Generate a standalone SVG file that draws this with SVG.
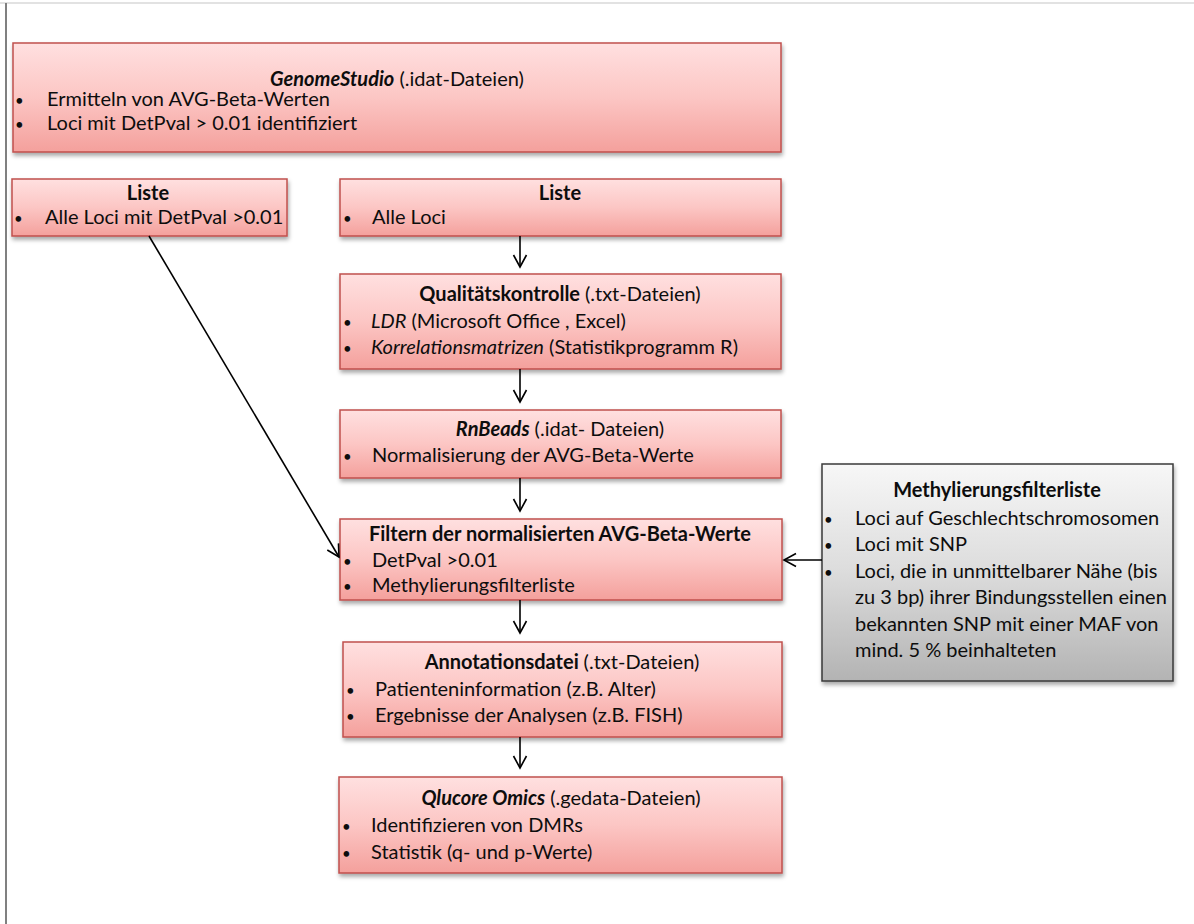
<svg xmlns="http://www.w3.org/2000/svg" width="1194" height="924" viewBox="0 0 1194 924">
<defs>
<linearGradient id="red" x1="0" y1="0" x2="0" y2="1">
<stop offset="0" stop-color="#ffe0e0"/>
<stop offset="0.5" stop-color="#fcc6c4"/>
<stop offset="1" stop-color="#f4a09c"/>
</linearGradient>
<linearGradient id="gray" x1="0" y1="0" x2="0" y2="1">
<stop offset="0" stop-color="#f7f7f7"/>
<stop offset="0.5" stop-color="#dcdcdc"/>
<stop offset="1" stop-color="#b3b3b3"/>
</linearGradient>
<filter id="sh" x="-5%" y="-10%" width="110%" height="130%">
<feDropShadow dx="1" dy="3" stdDeviation="2" flood-color="#000" flood-opacity="0.35"/>
</filter>
<marker id="arr" markerUnits="userSpaceOnUse" viewBox="-1 -8 15 16" refX="12" refY="0" markerWidth="15" markerHeight="16" orient="auto">
<path d="M0,-6.5 L12,0 L0,6.5" fill="none" stroke="#000" stroke-width="1.6"/>
</marker>
</defs>
<style>
.box{fill:url(#red);stroke:#c0504d;stroke-width:1.5;filter:url(#sh)}
.gbox{fill:url(#gray);stroke:#3a3a3a;stroke-width:1.5;filter:url(#sh)}
text{font-family:Lato,"Liberation Sans",sans-serif;font-size:20px;fill:#0d0d0d}
.t{text-anchor:middle;font-weight:bold}
.b{font-size:15px}
.it{font-style:italic}
.n{font-weight:normal;font-style:normal}
.c{fill:none;stroke:#000;stroke-width:1.6;marker-end:url(#arr)}
</style>
<line x1="0" y1="3" x2="1194" y2="3" stroke="#d9d9d9" stroke-width="1.5"/>
<line x1="6" y1="3" x2="6" y2="924" stroke="#808080" stroke-width="2"/>

<g id="genomestudio">
<rect class="box" x="13" y="43" width="768" height="109"/>
<text class="t" x="397" y="86"><tspan class="it">GenomeStudio</tspan><tspan class="n"> (.idat-Dateien)</tspan></text>
<text class="b" x="15" y="106">•</text><text x="47" y="106">Ermitteln von AVG-Beta-Werten</text>
<text class="b" x="15" y="130">•</text><text x="47" y="130">Loci mit DetPval &gt; 0.01 identifiziert</text>
</g>

<g id="liste-links">
<rect class="box" x="12" y="179" width="275" height="57"/>
<text class="t" x="148" y="200">Liste</text>
<text class="b" x="14" y="224">•</text><text x="45" y="224">Alle Loci mit DetPval &gt;0.01</text>
</g>

<g id="liste-rechts">
<rect class="box" x="340" y="179" width="441" height="57"/>
<text class="t" x="560" y="200">Liste</text>
<text class="b" x="343" y="224">•</text><text x="372" y="224">Alle Loci</text>
</g>

<g id="qualitaetskontrolle">
<rect class="box" x="340" y="274" width="441" height="95"/>
<text class="t" x="560" y="301">Qualitätskontrolle <tspan class="n"> (.txt-Dateien)</tspan></text>
<text class="b" x="343" y="328">•</text><text x="371" y="328"><tspan class="it">LDR</tspan> (Microsoft Office , Excel)</text>
<text class="b" x="343" y="354">•</text><text x="371" y="354"><tspan class="it">Korrelationsmatrizen</tspan> (Statistikprogramm R)</text>
</g>

<g id="rnbeads">
<rect class="box" x="340" y="410" width="441" height="68"/>
<text class="t" x="560" y="436"><tspan class="it">RnBeads</tspan><tspan class="n"> (.idat- Dateien)</tspan></text>
<text class="b" x="343" y="462">•</text><text x="372" y="462">Normalisierung der AVG-Beta-Werte</text>
</g>

<g id="filtern">
<rect class="box" x="340" y="519" width="442" height="81"/>
<text class="t" x="560" y="541">Filtern der normalisierten AVG-Beta-Werte</text>
<text class="b" x="343" y="567">•</text><text x="372" y="567">DetPval &gt;0.01</text>
<text class="b" x="343" y="592">•</text><text x="372" y="592">Methylierungsfilterliste</text>
</g>

<g id="annotationsdatei">
<rect class="box" x="343" y="642" width="439" height="95"/>
<text class="t" x="562" y="669">Annotationsdatei <tspan class="n"> (.txt-Dateien)</tspan></text>
<text class="b" x="346" y="696">•</text><text x="375" y="696">Patienteninformation (z.B. Alter)</text>
<text class="b" x="346" y="722">•</text><text x="375" y="722">Ergebnisse der Analysen (z.B. FISH)</text>
</g>

<g id="qlucore">
<rect class="box" x="339" y="777" width="443" height="96"/>
<text class="t" x="561" y="805"><tspan class="it">Qlucore Omics</tspan><tspan class="n">  (.gedata-Dateien)</tspan></text>
<text class="b" x="342" y="832">•</text><text x="371" y="832">Identifizieren von DMRs</text>
<text class="b" x="342" y="859">•</text><text x="371" y="859">Statistik (q- und p-Werte)</text>
</g>

<g id="methylierungsfilterliste">
<rect class="gbox" x="822" y="464" width="351" height="217"/>
<text class="t" x="997" y="497">Methylierungsfilterliste</text>
<text class="b" x="824" y="525">•</text><text x="855" y="525">Loci auf Geschlechtschromosomen</text>
<text class="b" x="824" y="551">•</text><text x="855" y="551">Loci mit SNP</text>
<text class="b" x="824" y="578">•</text><text x="855" y="578">Loci, die in unmittelbarer Nähe (bis</text>
<text x="855" y="604">zu 3 bp) ihrer Bindungsstellen einen</text>
<text x="855" y="631">bekannten SNP mit einer MAF von</text>
<text x="855" y="657">mind. 5 % beinhalteten</text>
</g>

<g id="connectors">
<line class="c" x1="520" y1="236" x2="520" y2="267"/>
<line class="c" x1="520" y1="369" x2="520" y2="402"/>
<line class="c" x1="520" y1="478" x2="520" y2="511"/>
<line class="c" x1="520" y1="600" x2="520" y2="633"/>
<line class="c" x1="520" y1="737" x2="520" y2="768"/>
<line class="c" x1="822" y1="560" x2="784" y2="560"/>
<line class="c" x1="149" y1="236" x2="339" y2="557"/>
</g>
</svg>
